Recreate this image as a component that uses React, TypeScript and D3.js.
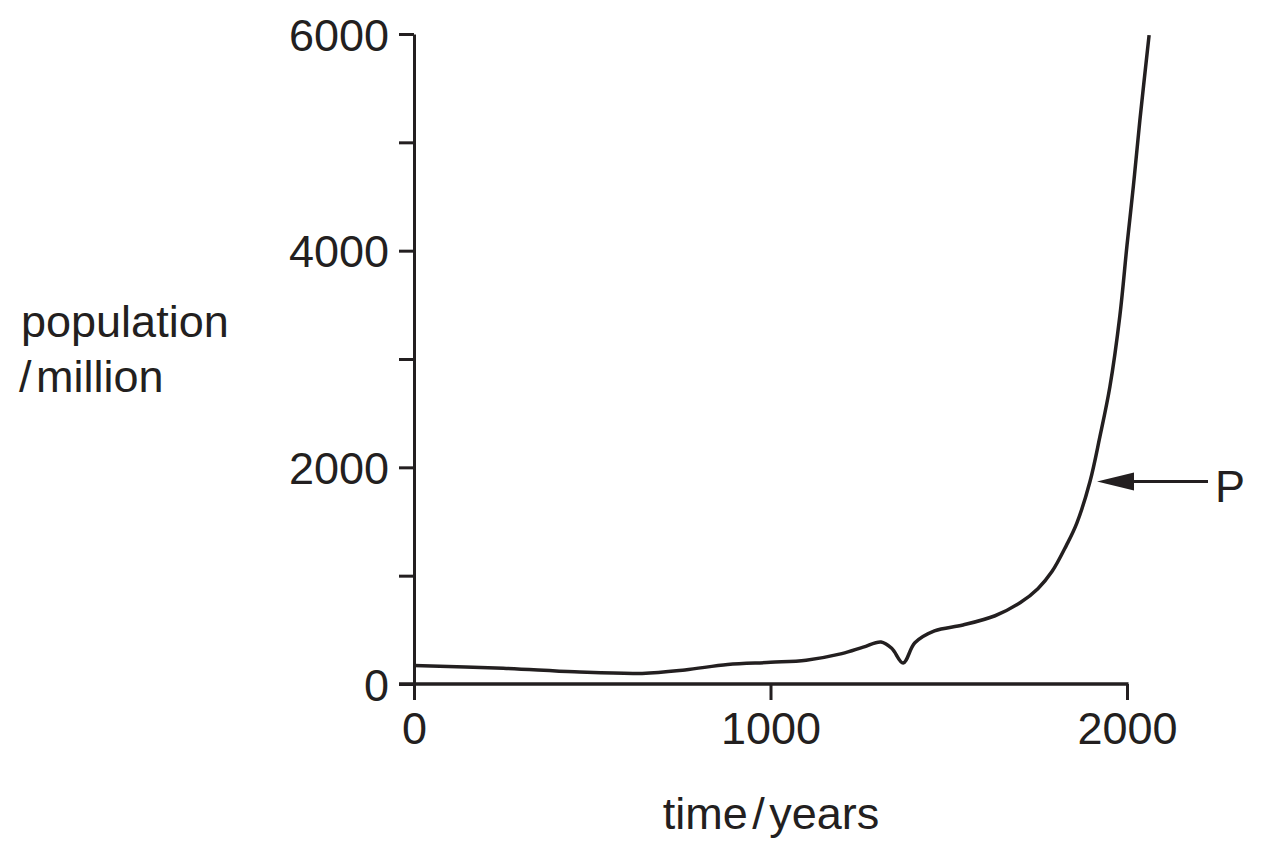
import React, { useEffect, useRef } from "react";
import * as d3 from "d3";

const years = [0, 250, 450, 640, 760, 880, 1000, 1100, 1200, 1260, 1310, 1340, 1372, 1405, 1460, 1540, 1630, 1700, 1750, 1790, 1830, 1859, 1896, 1924, 1952, 1980, 2000, 2018, 2036, 2062];
const population = [170, 145, 112, 98, 130, 180, 200, 220, 280, 340, 388, 330, 194, 380, 490, 545, 630, 750, 880, 1040, 1280, 1483, 1867, 2283, 2744, 3400, 4050, 4600, 5200, 5990];
const xTicks = [0, 1000, 2000];
const yTicks = [0, 1000, 2000, 3000, 4000, 5000, 6000];
const yLabelTicks = [0, 2000, 4000, 6000];
const arrowValue = 1870;
const arrowLabel = "P";

const INK = "#231f20";
const FONT = "'Liberation Sans', Arial, Helvetica, sans-serif";
const FS = 45;

export default function App() {
  const ref = useRef<SVGSVGElement>(null);

  useEffect(() => {
    const svg = d3.select(ref.current);
    svg.selectAll("*").remove();

    const x = d3.scaleLinear().domain([0, 2000]).range([414, 1127]);
    const y = d3.scaleLinear().domain([0, 6000]).range([684, 34]);

    // y axis
    const yAxis = d3
      .axisLeft(y)
      .tickValues(yTicks)
      .tickSize(15)
      .tickSizeOuter(0)
      .tickFormat((d: any) => (yLabelTicks.includes(d) ? String(d) : ""));
    const gy = svg.append("g").attr("transform", `translate(${x(0)},0)`).call(yAxis as any);
    gy.select(".domain").attr("stroke", INK).attr("stroke-width", 3);
    gy.selectAll(".tick line").attr("stroke", INK).attr("stroke-width", 3);
    gy.selectAll(".tick text")
      .attr("fill", INK)
      .attr("font-family", FONT)
      .attr("font-size", FS)
      .attr("x", -25)
      .attr("dy", "0.36em");

    // x axis
    const xAxis = d3.axisBottom(x).tickValues(xTicks).tickSize(16).tickSizeOuter(0).tickFormat((d: any) => String(d));
    const gx = svg.append("g").attr("transform", `translate(0,${y(0)})`).call(xAxis as any);
    gx.select(".domain").remove();
    gx.append("line")
      .attr("x1", x(0) - 15)
      .attr("x2", x(2000) + 1.5)
      .attr("y1", 0)
      .attr("y2", 0)
      .attr("stroke", INK)
      .attr("stroke-width", 3.5);
    gx.selectAll(".tick line").attr("stroke", INK).attr("stroke-width", 3);
    gx.selectAll(".tick text")
      .attr("fill", INK)
      .attr("font-family", FONT)
      .attr("font-size", FS)
      .attr("y", 28)
      .attr("dy", "0.71em");

    // curve
    const data = years.map((yr, i) => [yr, population[i]] as [number, number]);
    const line = d3
      .line<[number, number]>()
      .x((d) => x(d[0]))
      .y((d) => y(d[1]))
      .curve(d3.curveCatmullRom.alpha(0.5));
    svg.append("path")
      .attr("d", line(data))
      .attr("fill", "none")
      .attr("stroke", INK)
      .attr("stroke-width", 3.5)
      .attr("stroke-linejoin", "round");

    // arrow P
    const ay = y(arrowValue);
    const tipX = 1097;
    svg.append("line")
      .attr("x1", tipX + 30)
      .attr("x2", 1208)
      .attr("y1", ay)
      .attr("y2", ay)
      .attr("stroke", INK)
      .attr("stroke-width", 3);
    svg.append("path")
      .attr("d", `M${tipX},${ay} L${tipX + 37},${ay - 9} L${tipX + 37},${ay + 9} Z`)
      .attr("fill", INK);
    svg.append("text")
      .attr("x", 1215)
      .attr("y", ay + 21)
      .attr("font-family", FONT)
      .attr("font-size", FS)
      .attr("fill", INK)
      .text(arrowLabel);

    // axis titles
    const yt = svg.append("text").attr("font-family", FONT).attr("font-size", FS).attr("fill", INK);
    yt.append("tspan").attr("x", 21).attr("y", 337).text("population");
    yt.append("tspan").attr("x", 19).attr("y", 392).attr("word-spacing", "-8px").text("/ million");

    svg.append("text")
      .attr("x", 771)
      .attr("y", 829)
      .attr("text-anchor", "middle")
      .attr("font-family", FONT)
      .attr("font-size", FS)
      .attr("fill", INK)
      .attr("word-spacing", "-8px")
      .text("time / years");
  }, []);

  return (
    <svg
      ref={ref}
      width={1263}
      height={846}
      style={{ position: "absolute", left: 0, top: 0, background: "#fff" }}
    />
  );
}
